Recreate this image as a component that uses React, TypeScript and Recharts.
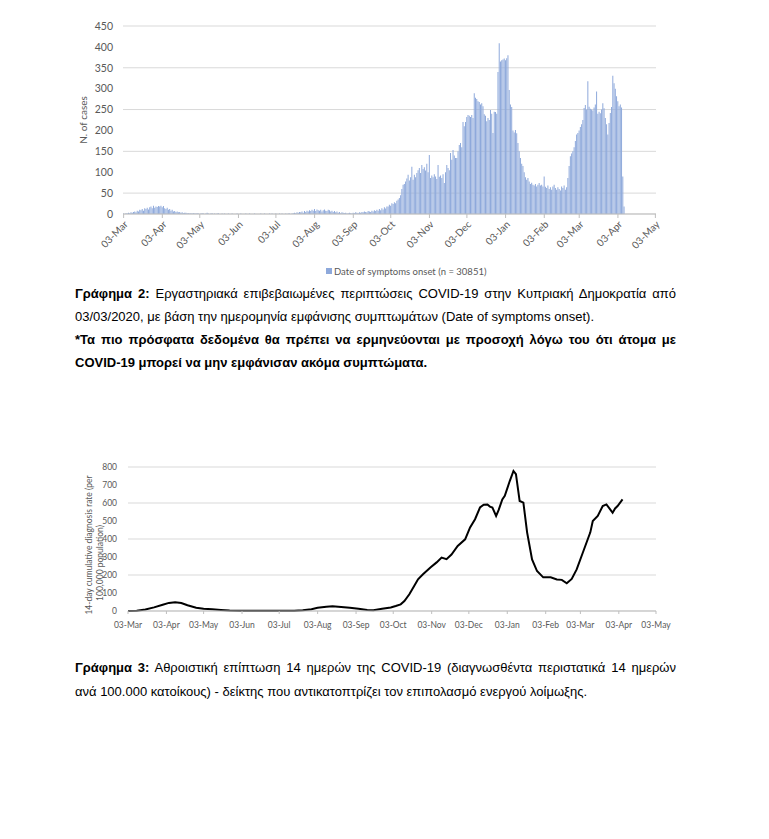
import { Bar, BarChart, CartesianGrid, Line, LineChart, XAxis, YAxis } from "recharts";

// daily cases by date of symptom onset, one array per month
const MAR_2020 = [1, 0, 2, 1, 3, 2, 4, 3, 5, 6, 4, 8, 6, 10, 9, 12, 8, 14, 12, 15, 11, 16, 18, 14, 20, 15, 18, 17, 19]; // from 3 Mar
const APR_2020 = [18, 20, 16, 19, 14, 12, 15, 10, 12, 8, 10, 6, 7, 5, 6, 4, 5, 3, 4, 2, 3, 3, 2, 2, 1, 2, 1, 2, 1, 1];
const MAY_2020 = [2, 1, 0, 1, 2, 1, 0, 1, 3, 1, 0, 1, 2, 0, 1, 0, 1, 2, 0, 0, 1, 0, 1, 0, 0, 1, 0, 0, 1, 0, 0];
const JUN_2020 = [0, 1, 0, 0, 1, 0, 0, 0, 1, 0, 0, 1, 0, 0, 0, 1, 0, 0, 0, 0, 1, 0, 0, 1, 0, 0, 0, 1, 0, 1];
const JUL_2020 = [0, 0, 1, 0, 0, 1, 0, 1, 0, 0, 1, 0, 1, 1, 0, 1, 2, 3, 2, 4, 3, 5, 4, 6, 3, 7, 5, 8, 6, 9, 7];
const AUG_2020 = [10, 8, 12, 7, 11, 9, 8, 10, 6, 9, 11, 8, 7, 10, 9, 6, 8, 5, 7, 4, 6, 3, 5, 2, 4, 3, 2, 3, 1, 2, 3];
const SEP_2020 = [2, 1, 3, 2, 4, 3, 2, 4, 3, 5, 4, 6, 5, 4, 7, 6, 5, 8, 6, 9, 7, 10, 8, 12, 9, 14, 11, 16, 13, 18];
const OCT_2020 = [18, 22, 20, 26, 24, 28, 26, 32, 35, 38, 45, 60, 70, 72, 78, 85, 94, 80, 88, 113, 82, 94, 88, 98, 105, 110, 98, 117, 108, 112, 104];
const NOV_2020 = [120, 100, 141, 86, 92, 88, 95, 90, 84, 117, 89, 92, 86, 95, 74, 100, 117, 110, 105, 146, 130, 153, 140, 134, 134, 150, 165, 170, 160, 220];
const DEC_2020 = [210, 220, 232, 237, 235, 232, 237, 230, 289, 278, 275, 270, 268, 262, 265, 258, 239, 235, 222, 230, 225, 249, 240, 194, 245, 244, 240, 340, 409, 365, 368];
const JAN_2021 = [370, 372, 368, 373, 380, 297, 262, 256, 200, 195, 201, 193, 170, 150, 134, 120, 115, 100, 88, 82, 86, 78, 72, 75, 70, 68, 72, 66, 70, 74, 68];
const FEB_2021 = [70, 66, 90, 65, 62, 68, 60, 64, 58, 66, 70, 62, 58, 64, 60, 56, 66, 62, 68, 58, 64, 86, 115, 138, 145, 150, 160, 175];
const MAR_2021 = [190, 194, 200, 208, 215, 225, 254, 261, 250, 318, 257, 252, 250, 248, 255, 262, 293, 240, 245, 241, 250, 265, 253, 230, 215, 190, 218, 242, 256, 331, 313];
const APR_2021 = [300, 282, 270, 258, 262, 255, 90, 18];

// 14-day cumulative rate, read at points along the curve
const RATE_DATES = [
  "2020-03-03", "2020-03-10", "2020-03-17", "2020-03-24", "2020-03-31", "2020-04-05", "2020-04-10", "2020-04-15",
  "2020-04-20", "2020-04-27", "2020-05-03", "2020-05-10", "2020-05-17", "2020-05-24", "2020-06-01", "2020-06-15",
  "2020-07-01", "2020-07-15", "2020-07-22", "2020-07-29", "2020-08-03", "2020-08-10", "2020-08-15", "2020-08-22",
  "2020-08-29", "2020-09-05", "2020-09-12", "2020-09-17", "2020-09-24", "2020-10-01", "2020-10-05", "2020-10-09",
  "2020-10-12", "2020-10-16", "2020-10-20", "2020-10-23", "2020-10-27", "2020-11-02", "2020-11-07", "2020-11-11",
  "2020-11-15", "2020-11-19", "2020-11-24", "2020-11-30", "2020-12-04", "2020-12-08", "2020-12-12", "2020-12-15",
  "2020-12-18", "2020-12-20", "2020-12-22", "2020-12-25", "2020-12-27", "2020-12-30", "2021-01-01", "2021-01-05",
  "2021-01-08", "2021-01-10", "2021-01-13", "2021-01-16", "2021-01-19", "2021-01-23", "2021-01-27", "2021-02-01",
  "2021-02-07", "2021-02-12", "2021-02-16", "2021-02-20", "2021-02-24", "2021-02-28", "2021-03-05", "2021-03-11",
  "2021-03-13", "2021-03-17", "2021-03-21", "2021-03-24", "2021-03-27", "2021-03-29", "2021-03-31", "2021-04-02",
  "2021-04-06",
];
const RATE_VALUES = [
  0, 2, 8, 20, 35, 45, 48, 44,
  32, 18, 12, 10, 6, 3, 2, 2,
  1, 2, 4, 10, 18, 24, 26, 22,
  18, 12, 5, 4, 12, 20, 28, 37,
  55, 93, 140, 176, 204, 242, 270, 297,
  288, 314, 361, 398, 464, 510, 575, 590,
  592, 580, 575, 528, 560, 620, 640, 722,
  778, 760, 611, 602, 437, 287, 222, 187,
  187, 175, 173, 154, 178, 231, 325, 437,
  500, 528, 583, 592, 565, 546, 570, 583,
  620,
];

const CASE_TICKS = [0, 50, 100, 150, 200, 250, 300, 350, 400, 450];
const RATE_TICKS = [0, 100, 200, 300, 400, 500, 600, 700, 800];
const MONTHS = ["Jan", "Feb", "Mar", "Apr", "May", "Jun", "Jul", "Aug", "Sep", "Oct", "Nov", "Dec"];

const START = Date.UTC(2020, 2, 3);
const DAY_MS = 86400000;

function buildDays() {
  const out: string[] = [];
  const d = new Date(START);
  const end = Date.UTC(2021, 4, 3);
  while (d.getTime() <= end) {
    out.push(d.toISOString().slice(0, 10));
    d.setUTCDate(d.getUTCDate() + 1);
  }
  return out;
}

const DAYS = buildDays();
const CASES = [
  ...MAR_2020, ...APR_2020, ...MAY_2020, ...JUN_2020, ...JUL_2020, ...AUG_2020, ...SEP_2020,
  ...OCT_2020, ...NOV_2020, ...DEC_2020, ...JAN_2021, ...FEB_2021, ...MAR_2021, ...APR_2021,
];
const barData = DAYS.map((day, i) => ({ day, cases: i < CASES.length ? CASES[i] : null }));
const MONTH_TICKS = DAYS.filter((d) => d.endsWith("-03"));

const dayIndex = (iso: string) => Math.round((Date.parse(iso) - START) / DAY_MS);
const lineData = RATE_DATES.map((d, i) => ({ x: dayIndex(d), rate: RATE_VALUES[i] }));
const LINE_TICKS = MONTH_TICKS.map(dayIndex);

const fmtIso = (iso: string) => `${iso.slice(8)}-${MONTHS[+iso.slice(5, 7) - 1]}`;
const fmtIdx = (i: number) => fmtIso(DAYS[i]);

const chartFont = "Lato, 'Open Sans', sans-serif";
const gray = "#595959";
const grid = "#D9D9D9";
const axisGray = "#BFBFBF";

const textLine = (top: number, extra: React.CSSProperties = {}) =>
  ({
    position: "absolute",
    left: 75,
    top,
    width: 601,
    fontSize: 13,
    lineHeight: "16px",
    whiteSpace: "nowrap",
    color: "#000",
    ...extra,
  }) as React.CSSProperties;

const justify = { textAlign: "justify", textAlignLast: "justify" } as React.CSSProperties;

export default function App() {
  return (
    <div
      style={{
        position: "absolute",
        left: 0,
        top: 0,
        width: 769,
        height: 839,
        background: "#fff",
        fontFamily: "'Liberation Sans', Arial, sans-serif",
      }}
    >
      <div style={{ position: "absolute", left: 0, top: 0 }}>
        <BarChart width={769} height={270} data={barData} barSize={1} margin={{ top: 26, right: 113, bottom: 0, left: 0 }}>
          <CartesianGrid vertical={false} stroke={grid} />
          <XAxis
            dataKey="day"
            ticks={MONTH_TICKS}
            interval={0}
            tickFormatter={fmtIso}
            angle={-45}
            textAnchor="end"
            height={56}
            tickSize={4}
            tickMargin={2}
            tick={{ fontSize: 10, fill: gray, fontFamily: chartFont }}
            tickLine={{ stroke: axisGray }}
            axisLine={{ stroke: axisGray }}
          />
          <YAxis
            domain={[0, 450]}
            ticks={CASE_TICKS}
            width={123}
            tickSize={0}
            tickMargin={10}
            axisLine={false}
            tick={{ fontSize: 10.5, fill: gray, fontFamily: chartFont }}
          />
          <Bar dataKey="cases" fill="#8EA9DB" isAnimationActive={false} />
        </BarChart>
      </div>
      <div
        style={{
          position: "absolute",
          left: 83,
          top: 120,
          transform: "translate(-50%, -50%) rotate(-90deg)",
          fontFamily: chartFont,
          fontSize: 10,
          color: gray,
          whiteSpace: "nowrap",
        }}
      >
        N. of cases
      </div>
      <div style={{ position: "absolute", left: 326, top: 268, width: 6, height: 6, background: "#8EA9DB" }} />
      <div
        style={{
          position: "absolute",
          left: 334,
          top: 265,
          fontFamily: chartFont,
          fontSize: 9.5,
          lineHeight: "13px",
          color: gray,
          whiteSpace: "nowrap",
        }}
      >
        Date of symptoms onset (n = 30851)
      </div>

      <div style={textLine(286, justify)}>
        <b>Γράφημα 2:</b> Εργαστηριακά επιβεβαιωμένες περιπτώσεις COVID-19 στην Κυπριακή Δημοκρατία από
      </div>
      <div style={textLine(309)}>
        03/03/2020, με βάση την ημερομηνία εμφάνισης συμπτωμάτων (Date of symptoms onset).
      </div>
      <div style={textLine(332, { ...justify, fontWeight: "bold" })}>
        *Τα πιο πρόσφατα δεδομένα θα πρέπει να ερμηνεύονται με προσοχή λόγω του ότι άτομα με
      </div>
      <div style={textLine(355, { fontWeight: "bold" })}>COVID-19 μπορεί να μην εμφάνισαν ακόμα συμπτώματα.</div>

      <div style={{ position: "absolute", left: 0, top: 450 }}>
        <LineChart width={769} height={181} data={lineData} margin={{ top: 17, right: 113, bottom: 0, left: 0 }}>
          <CartesianGrid vertical={false} stroke={grid} />
          <XAxis
            type="number"
            dataKey="x"
            domain={[0, 426]}
            ticks={LINE_TICKS}
            interval={0}
            tickFormatter={fmtIdx}
            height={20}
            tickSize={3}
            tickMargin={8}
            tick={{ fontSize: 8.5, fill: gray, fontFamily: chartFont }}
            tickLine={{ stroke: axisGray }}
            axisLine={{ stroke: axisGray }}
          />
          <YAxis
            domain={[0, 800]}
            ticks={RATE_TICKS}
            width={128}
            tickSize={0}
            tickMargin={11}
            axisLine={false}
            tick={{ fontSize: 8.5, fill: gray, fontFamily: chartFont }}
          />
          <Line type="linear" dataKey="rate" stroke="#000" strokeWidth={2} dot={false} isAnimationActive={false} />
        </LineChart>
      </div>
      <div
        style={{
          position: "absolute",
          left: 89,
          top: 545,
          transform: "translate(-50%, -50%) rotate(-90deg)",
          fontFamily: chartFont,
          fontSize: 8.5,
          color: gray,
          whiteSpace: "nowrap",
        }}
      >
        14-day cumulative diagnosis rate (per
      </div>
      <div
        style={{
          position: "absolute",
          left: 100,
          top: 563,
          transform: "translate(-50%, -50%) rotate(-90deg)",
          fontFamily: chartFont,
          fontSize: 8.5,
          color: gray,
          whiteSpace: "nowrap",
        }}
      >
        100,000 population)
      </div>

      <div style={textLine(660, justify)}>
        <b>Γράφημα 3:</b> Αθροιστική επίπτωση 14 ημερών της COVID-19 (διαγνωσθέντα περιστατικά 14 ημερών
      </div>
      <div style={textLine(684)}>
        ανά 100.000 κατοίκους) - δείκτης που αντικατοπτρίζει τον επιπολασμό ενεργού λοίμωξης.
      </div>
    </div>
  );
}
